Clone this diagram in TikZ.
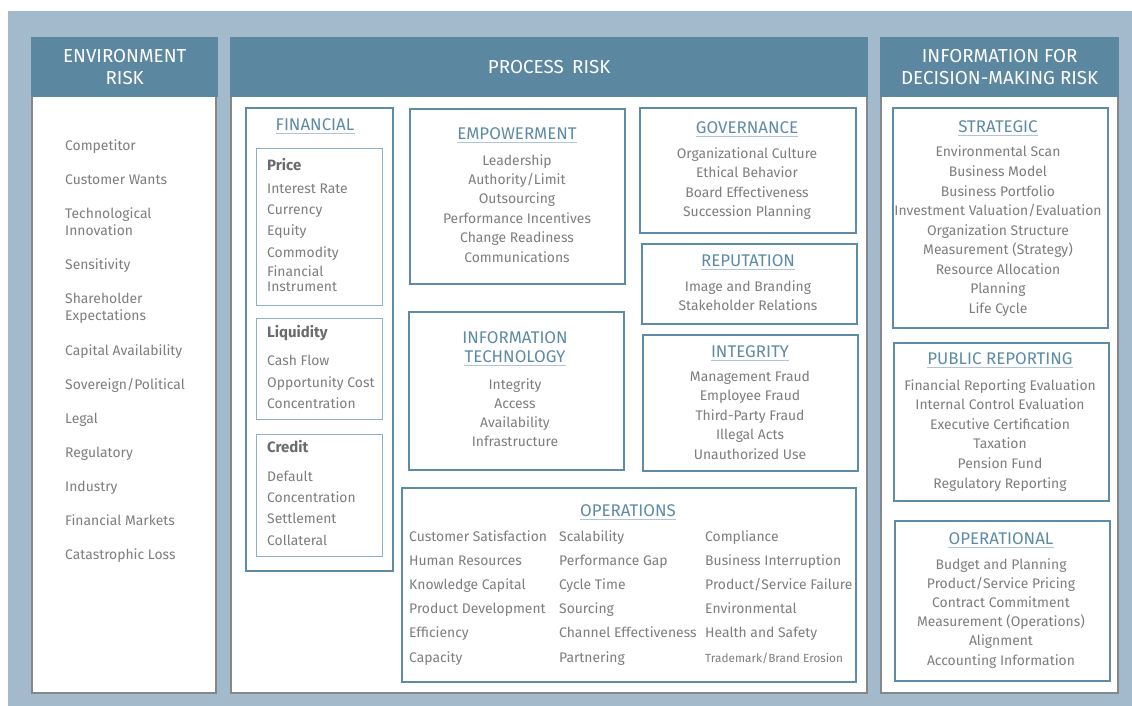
\documentclass[tikz,border=0pt]{standalone}
\usepackage{fontspec}
\setmainfont{Fira Sans}
\usetikzlibrary{positioning}

\definecolor{bgblue}{HTML}{A3B9CC}
\definecolor{headblue}{HTML}{5C87A1}
\definecolor{boxblue}{HTML}{5E8BA6}
\definecolor{subblue}{HTML}{8DB0C6}
\definecolor{ulblue}{HTML}{AFC6D8}
\definecolor{txtgray}{HTML}{7E7E7E}
\definecolor{shade}{HTML}{878787}

\begin{document}
\begin{tikzpicture}[
    x=1pt, y=-1pt,
    colbody/.style={
        fill=white,
        draw=shade,
        line width=2pt
        },
    colhead/.style={
        fill=headblue,
        text=white,
        align=center,
        inner sep=0pt,
        anchor=north west,
        font=\fontsize{18.8}{22}\selectfont
        },
    riskbox/.style={
        draw=boxblue,
        line width=2.2pt,
        inner sep=0pt,
        anchor=north west
        },
    subbox/.style={
        draw=subblue,
        line width=1.4pt,
        inner sep=0pt,
        anchor=north west
        },
    ttl/.style={
        text=boxblue,
        inner sep=0pt,
        font=\fontsize{16.9}{18}\selectfont
        },
    ul/.style={
        ttl,
        append after command={([yshift=-2.6pt]\tikzlastnode.south west) edge[draw=ulblue, line width=1.3pt] ([yshift=-2.6pt]\tikzlastnode.south east)}
        },
    item/.style={
        text=txtgray,
        inner sep=0pt,
        anchor=base,
        font=\fontsize{13.9}{16}\selectfont
        },
    litem/.style={
        item,
        anchor=base west
        },
    sublabel/.style={
        text=txtgray!85!black,
        inner sep=0pt,
        anchor=base west,
        font=\fontsize{15}{18}\selectfont\bfseries
        }]
    \useasboundingbox (0,0) rectangle (1132,706);
    \fill[bgblue] (8,11) rectangle (1132,706);

    % Columns
    \draw[colbody] (32,90) rectangle (216,693);
    \draw[colbody] (231,90) rectangle (867,693);
    \draw[colbody] (881,90) rectangle (1118,693);
    \node[colhead, minimum width=187, minimum height=60] (envhead) at (31,37) {ENVIRONMENT\\RISK};
    \node[colhead, minimum width=638, minimum height=60] (prochead) at (230,37) {PROCESS\hspace{0.45em}RISK};
    \node[colhead, minimum width=239, minimum height=60] (infohead) at (880,37) {INFORMATION FOR\\DECISION-MAKING RISK};

    % Environment risk
    \foreach \y/\txt in {145/Competitor, 179/Customer Wants, 213/Technological, 230/Innovation,
        264/Sensitivity, 298/Shareholder, 315/Expectations, 350/Capital Availability,
        384/{Sovereign/Political}, 418/Legal, 452/Regulatory, 486/Industry,
        520/Financial Markets, 554/Catastrophic Loss}
        \node[litem] at (65,\y+5) {\txt};

    % Financial
    \node[riskbox, minimum width=147, minimum height=463] (fin) at (245,107) {};
    \node[ul] (fintitle) at (315,125) {FINANCIAL};
    \node[subbox, minimum width=126, minimum height=157] (price) at (256,148) {};
    \node[subbox, minimum width=126, minimum height=101] (liq) at (256,318) {};
    \node[subbox, minimum width=126, minimum height=122] (cred) at (256,434) {};
    \node[sublabel] (pricelbl) at (267,170) {Price};
    \node[sublabel] (liqlbl) at (267,337) {Liquidity};
    \node[sublabel] (credlbl) at (267,452) {Credit};
    \foreach \y/\txt in {188/Interest Rate, 209/Currency, 230/Equity, 252/Commodity,
        271/Financial, 286/Instrument, 360/Cash Flow, 382/Opportunity Cost,
        403/Concentration, 476/Default, 497/Concentration, 518/Settlement, 540/Collateral}
        \node[litem] at (267,\y+5) {\txt};

    % Empowerment
    \node[riskbox, minimum width=215, minimum height=175] (emp) at (409,108) {};
    \node[ul] (emptitle) at (517,134) {EMPOWERMENT};
    \foreach \txt [count=\i from 0] in {Leadership, Authority/Limit, Outsourcing,
        Performance Incentives, Change Readiness, Communications}
        \node[item] at (517,{165+19.4*\i}) {\txt};

    % Governance
    \node[riskbox, minimum width=216, minimum height=125] (gov) at (639,107) {};
    \node[ul] (govtitle) at (747,128) {GOVERNANCE};
    \foreach \txt [count=\i from 0] in {Organizational Culture, Ethical Behavior,
        Board Effectiveness, Succession Planning}
        \node[item] at (747,{158+19.6*\i}) {\txt};

    % Reputation
    \node[riskbox, minimum width=215, minimum height=80] (rep) at (641,243) {};
    \node[ul] (reptitle) at (748,261) {REPUTATION};
    \foreach \txt [count=\i from 0] in {Image and Branding, Stakeholder Relations}
        \node[item] at (748,{291+19*\i}) {\txt};

    % Information technology
    \node[riskbox, minimum width=215, minimum height=158] (it) at (408,311) {};
    \node[ttl] (ittitle) at (515,338) {INFORMATION};
    \node[ul] (ittitle2) at (515,357) {TECHNOLOGY};
    \foreach \txt [count=\i from 0] in {Integrity, Access, Availability, Infrastructure}
        \node[item] at (515,{389+19.3*\i}) {\txt};

    % Integrity
    \node[riskbox, minimum width=215, minimum height=136] (integ) at (642,334) {};
    \node[ul] (integtitle) at (750,352) {INTEGRITY};
    \foreach \txt [count=\i from 0] in {Management Fraud, Employee Fraud,
        Third-Party Fraud, Illegal Acts, Unauthorized Use}
        \node[item] at (750,{381+19.5*\i}) {\txt};

    % Operations
    \node[riskbox, minimum width=454, minimum height=194] (ops) at (401,487) {};
    \node[ul] (opstitle) at (628,511) {OPERATIONS};
    \foreach \txt [count=\i from 0] in {Customer Satisfaction, Human Resources,
        Knowledge Capital, Product Development, Efficiency, Capacity}
        \node[litem] at (409,{541+24.2*\i}) {\txt};
    \foreach \txt [count=\i from 0] in {Scalability, Performance Gap, Cycle Time,
        Sourcing, Channel Effectiveness, Partnering}
        \node[litem] at (559,{541+24.2*\i}) {\txt};
    \foreach \txt [count=\i from 0] in {Compliance, Business Interruption,
        Product/Service Failure, Environmental, Health and Safety}
        \node[litem] at (705,{541+24.2*\i}) {\txt};
    \node[litem, font=\fontsize{11.8}{14}\selectfont] (tmark) at (705,662) {Trademark/Brand Erosion};

    % Strategic
    \node[riskbox, minimum width=215, minimum height=220] (strat) at (892,107) {};
    \node[ul] (strattitle) at (998,127) {STRATEGIC};
    \foreach \txt [count=\i from 0] in {Environmental Scan, Business Model,
        Business Portfolio, Investment Valuation/Evaluation, Organization Structure,
        Measurement (Strategy), Resource Allocation, Planning, Life Cycle}
        \node[item] at (998,{157+19.5*\i}) {\txt};

    % Public reporting
    \node[riskbox, minimum width=215, minimum height=158] (pub) at (893,342) {};
    \node[ul] (pubtitle) at (1000,359) {PUBLIC REPORTING};
    \foreach \txt [count=\i from 0] in {Financial Reporting Evaluation,
        Internal Control Evaluation, Executive Certification, Taxation,
        Pension Fund, Regulatory Reporting}
        \node[item] at (1000,{390+19.6*\i}) {\txt};

    % Operational
    \node[riskbox, minimum width=215, minimum height=160] (opl) at (894,520) {};
    \node[ul] (opltitle) at (1001,539) {OPERATIONAL};
    \foreach \txt [count=\i from 0] in {Budget and Planning, Product/Service Pricing,
        Contract Commitment, Measurement (Operations), Alignment, Accounting Information}
        \node[item] at (1001,{569+19.2*\i}) {\txt};
\end{tikzpicture}
\end{document}
